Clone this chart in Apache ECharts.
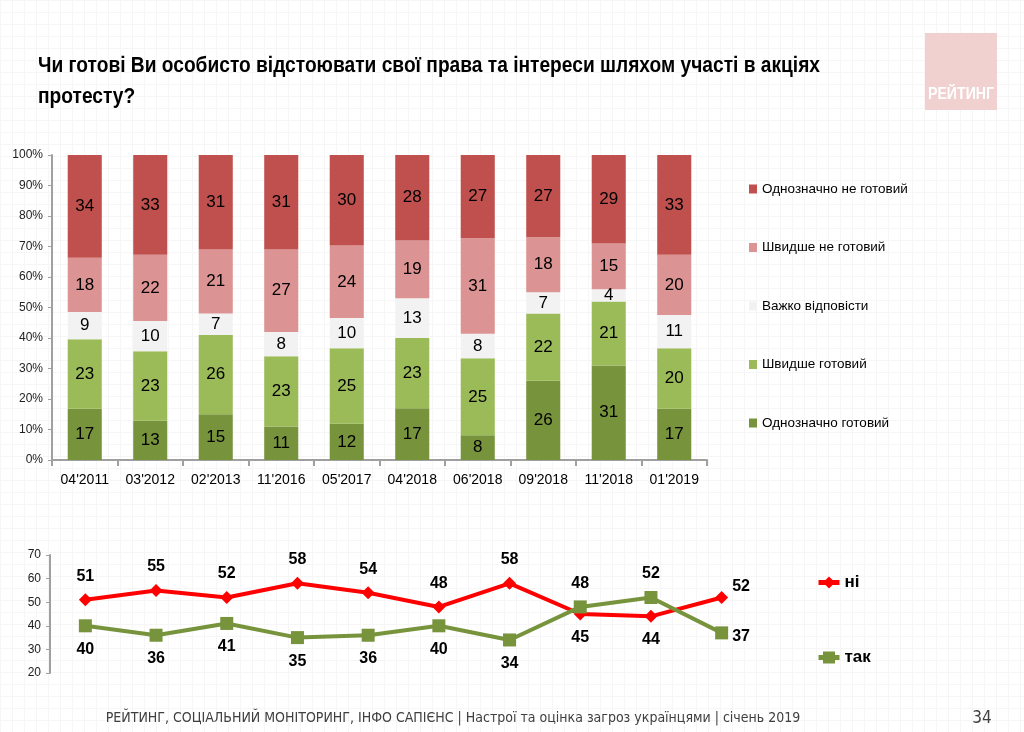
<!DOCTYPE html>
<html>
<head>
<meta charset="utf-8">
<script src="https://cdn.jsdelivr.net/npm/echarts@6/dist/echarts.min.js"></script>
<style>
html,body{margin:0;padding:0;}
body{
  width:1024px;height:732px;overflow:hidden;background-color:#fff;
  background-image:linear-gradient(#f6f6f6 1px, transparent 1px),linear-gradient(90deg,#f6f6f6 1px, transparent 1px);
  background-size:12px 12px;
}
#c{width:1024px;height:732px;}
</style>
</head>
<body>
<div id="c"></div>
<script>
// ---- data ----
const categories = ["04'2011","03'2012","02'2013","11'2016","05'2017","04'2018","06'2018","09'2018","11'2018","01'2019"];
const definitelyReady    = [17,13,15,11,12,17, 8,26,31,17];
const ratherReady        = [23,23,26,23,25,23,25,22,21,20];
const hardToSay          = [ 9,10, 7, 8,10,13, 8, 7, 4,11];
const ratherNotReady     = [18,22,21,27,24,19,31,18,15,20];
const definitelyNotReady = [34,33,31,31,30,28,27,27,29,33];
const barSeriesNames = ['Однозначно готовий','Швидше готовий','Важко відповісти','Швидше не готовий','Однозначно не готовий'];
const noValues  = [51,55,52,58,54,48,58,45,44,52];
const yesValues = [40,36,41,35,36,40,34,48,52,37];
const lineSeriesNames = ['ні','так'];
const titleLines = ['Чи готові Ви особисто відстоювати свої права та інтереси шляхом участі в акціях', 'протесту?'];
const footerText = 'РЕЙТИНГ, СОЦІАЛЬНИЙ МОНІТОРИНГ, ІНФО САПІЄНС | Настрої та оцінка загроз українцями | січень 2019';
const pageNumber = '34';
const logoText = 'РЕЙТИНГ';

// ---- styles ----
const SANS = "'Liberation Sans',Arial,sans-serif";
const COND = "'DejaVu Sans Condensed','Liberation Sans',sans-serif";
const barColors = ['#77933C','#9BBB59','#F2F2F2','#DB9493','#C0504D'];
const barArrays = [definitelyReady, ratherReady, hardToSay, ratherNotReady, definitelyNotReady];
const totals = categories.map((_, i) => barArrays.reduce((s, a) => s + a[i], 0));

const ctx = document.createElement('canvas').getContext('2d');
function measure(text, font) { ctx.font = font; return ctx.measureText(text).width; }
const titleFont = "bold 22px " + SANS;
const titleScale = 782 / measure(titleLines[0], titleFont);
const logoFont = "bold 16px " + SANS;
const logoScale = Math.min(1, 66 / measure(logoText, logoFont));

const barSeries = barArrays.map((arr, k) => ({
  name: barSeriesNames[k],
  type: 'bar',
  stack: 'total',
  xAxisIndex: 0, yAxisIndex: 0,
  barWidth: '52%',
  itemStyle: { color: barColors[k] },
  label: {
    show: true, position: 'inside', color: '#000',
    fontFamily: SANS, fontSize: 17,
    formatter: p => String(arr[p.dataIndex])
  },
  emphasis: { disabled: true },
  data: arr.map((v, i) => v / totals[i] * 100)
}));

function lineData(own, other, lastOffset) {
  return own.map((v, i) => {
    const last = i === own.length - 1;
    const pos = last ? 'right' : (v >= other[i] ? 'top' : 'bottom');
    return { value: v, label: last ? { position: pos, distance: 4, offset: lastOffset } : { position: pos } };
  });
}

const lineLabel = { show: true, color: '#000', fontFamily: SANS, fontWeight: 'bold', fontSize: 16, distance: 9 };

const option = {
  animation: false,
  textStyle: { fontFamily: SANS },
  grid: [
    { left: 52, width: 655, top: 155, height: 305 },
    { left: 50, width: 707, top: 555, height: 118 }
  ],
  xAxis: [
    {
      type: 'category', gridIndex: 0, data: categories,
      axisLine: { lineStyle: { color: '#A0A0A0', width: 2 } },
      axisTick: { show: true, length: 6, lineStyle: { color: '#A0A0A0', width: 2 } },
      axisLabel: { interval: 0, color: '#000', fontFamily: SANS, fontSize: 14, margin: 13 }
    },
    {
      type: 'category', gridIndex: 1, data: categories, show: false
    }
  ],
  yAxis: [
    {
      type: 'value', gridIndex: 0, min: 0, max: 100, interval: 10,
      axisLine: { show: true, lineStyle: { color: '#A0A0A0', width: 2 } },
      axisTick: { show: true, length: 4, lineStyle: { color: '#A0A0A0' } },
      splitLine: { show: false },
      axisLabel: { color: '#222', fontFamily: SANS, fontSize: 12, margin: 9, formatter: '{value}%' }
    },
    {
      type: 'value', gridIndex: 1, min: 20, max: 70, interval: 10,
      axisLine: { show: true, lineStyle: { color: '#A0A0A0', width: 2 } },
      axisTick: { show: true, length: 4, lineStyle: { color: '#A0A0A0' } },
      splitLine: { show: false },
      axisLabel: { color: '#222', fontFamily: SANS, fontSize: 12, margin: 9 }
    }
  ],
  legend: [
    {
      data: barSeriesNames.slice().reverse(),
      orient: 'vertical', left: 744, top: 177,
      itemWidth: 8, itemHeight: 9, itemGap: 44.5,
      icon: 'rect', selectedMode: false,
      textStyle: { color: '#000', fontFamily: SANS, fontSize: 13.5 }
    },
    {
      data: lineSeriesNames,
      orient: 'vertical', left: 811, top: 569,
      itemWidth: 21, itemHeight: 15, itemGap: 58,
      selectedMode: false,
      lineStyle: { width: 5 },
      textStyle: { color: '#000', fontFamily: SANS, fontWeight: 'bold', fontSize: 17 }
    }
  ],
  series: barSeries.concat([
    {
      name: lineSeriesNames[0], type: 'line', xAxisIndex: 1, yAxisIndex: 1,
      symbol: 'diamond', symbolSize: 13,
      lineStyle: { color: '#FF0000', width: 4 },
      itemStyle: { color: '#FF0000' },
      label: lineLabel,
      data: lineData(noValues, yesValues, [0, -11])
    },
    {
      name: lineSeriesNames[1], type: 'line', xAxisIndex: 1, yAxisIndex: 1,
      symbol: 'rect', symbolSize: 13,
      lineStyle: { color: '#77933C', width: 4 },
      itemStyle: { color: '#77933C' },
      label: lineLabel,
      data: lineData(yesValues, noValues, [0, 4])
    }
  ]),
  graphic: [
    { type: 'text', x: 38, y: 66, scaleX: titleScale, style: { text: titleLines[0], x: 0, y: 0, verticalAlign: 'middle', font: titleFont, fill: '#000' } },
    { type: 'text', x: 38, y: 97, scaleX: titleScale, style: { text: titleLines[1], x: 0, y: 0, verticalAlign: 'middle', font: titleFont, fill: '#000' } },
    { type: 'rect', shape: { x: 925, y: 33, width: 72, height: 77 }, style: { fill: '#F1D0D0' } },
    { type: 'text', x: 961, y: 95, scaleX: logoScale, style: { text: logoText, x: 0, y: 0, align: 'center', verticalAlign: 'middle', font: logoFont, fill: '#fff' } },
    { type: 'text', style: { text: footerText, x: 453, y: 718, align: 'center', verticalAlign: 'middle', font: "14px " + COND, fill: '#404040' } },
    { type: 'text', style: { text: pageNumber, x: 982, y: 719, align: 'center', verticalAlign: 'middle', font: "17px " + COND, fill: '#404040' } }
  ]
};

echarts.init(document.getElementById('c')).setOption(option);
</script>
</body>
</html>
